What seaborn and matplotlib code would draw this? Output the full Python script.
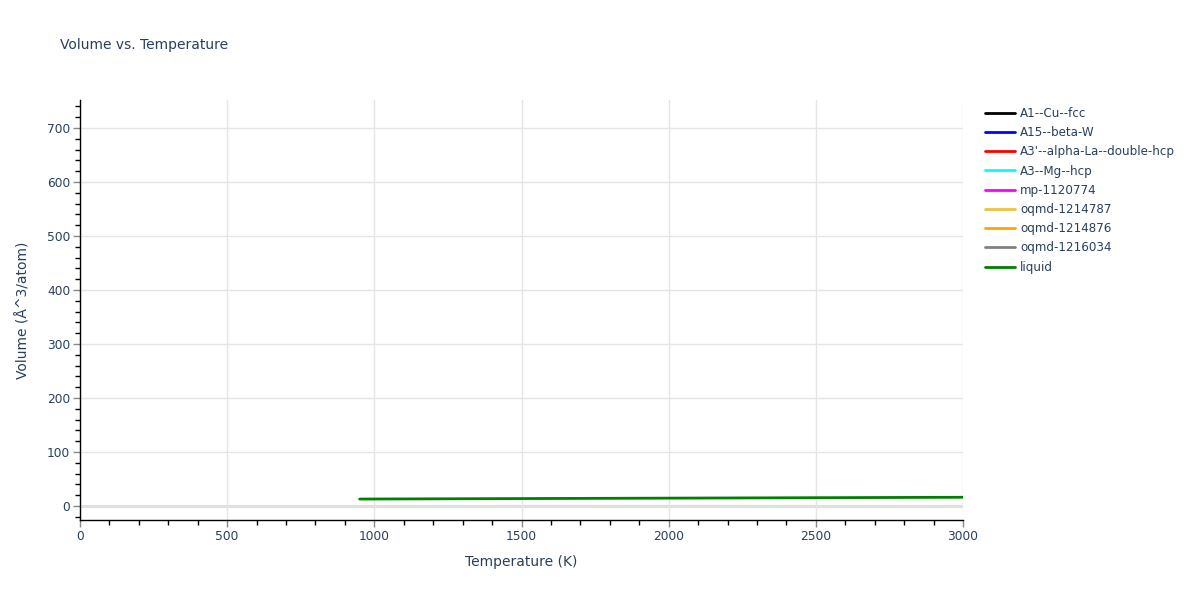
import matplotlib
matplotlib.use("Agg")
import matplotlib.pyplot as plt
from matplotlib.lines import Line2D
from matplotlib.ticker import MultipleLocator
import seaborn as sns
import pandas as pd

# ---- data ----
series_names = ["A1--Cu--fcc", "A15--beta-W", "A3'--alpha-La--double-hcp", "A3--Mg--hcp",
                "mp-1120774", "oqmd-1214787", "oqmd-1214876", "oqmd-1216034", "liquid"]
series_colors = ["black", "blue", "red", "cyan", "magenta", "#f0c23a", "orange", "gray", "green"]

liquid_T = [950, 1000, 1250, 1500, 1750, 2000, 2250, 2500, 2750, 3000]
liquid_V = [12.8, 12.9, 13.3, 13.7, 14.1, 14.5, 14.9, 15.3, 15.7, 16.1]

x_ticks = [0, 500, 1000, 1500, 2000, 2500, 3000]
y_ticks = [0, 100, 200, 300, 400, 500, 600, 700]

title = "Volume vs. Temperature"
xlabel = "Temperature (K)"
ylabel = "Volume (Å^3/atom)"

# ---- style ----
sns.set_style("white")
plt.rcParams['font.family'] = ['DejaVu Sans']
txt = "#2a3f5f"

fig = plt.figure(figsize=(12, 6), dpi=100)
ax = fig.add_axes([80/1200, 1-520/600, (963-80)/1200, (520-100)/600])

df = pd.DataFrame({"T": liquid_T, "V": liquid_V})
sns.lineplot(data=df, x="T", y="V", ax=ax, color="green", linewidth=2, legend=False)

ax.set_xlim(0, 3000)
ax.set_ylim(-26, 752)
ax.set_xticks(x_ticks)
ax.set_yticks(y_ticks)
ax.xaxis.set_minor_locator(MultipleLocator(100))
ax.yaxis.set_minor_locator(MultipleLocator(20))

ax.grid(True, which="major", color="#e5e5e5", linewidth=1)
ax.set_axisbelow(True)
ax.axhline(0, color="#d6d6d6", linewidth=2, zorder=0.5)

for s in ["top", "right"]:
    ax.spines[s].set_visible(False)
for s in ["left", "bottom"]:
    ax.spines[s].set_color("black")
    ax.spines[s].set_linewidth(1)

ax.tick_params(axis="both", which="major", direction="out", length=5, width=1,
               color="#888888", labelsize=8.8, labelcolor=txt, pad=2)
ax.tick_params(axis="both", which="minor", direction="out", length=3.5, width=1, color="black")
ax.tick_params(axis="x", which="both", bottom=True)
ax.tick_params(axis="y", which="both", left=True)

ax.set_xlabel(xlabel, fontsize=10, color=txt, labelpad=9)
ax.set_ylabel(ylabel, fontsize=10, color=txt, labelpad=12)
fig.text(60/1200, 1-45/600, title, fontsize=10, color=txt, va="center", ha="left")

handles = [Line2D([0], [0], color=c, linewidth=2) for c in series_colors]
fig.legend(handles, series_names, loc="upper left", bbox_to_anchor=(985/1200, 1-107/600),
           frameon=False, fontsize=8.6, labelcolor=txt, handlelength=2.5,
           handletextpad=0.42, labelspacing=0.52, borderaxespad=0, borderpad=0)

fig.savefig("out.png", dpi=100)
